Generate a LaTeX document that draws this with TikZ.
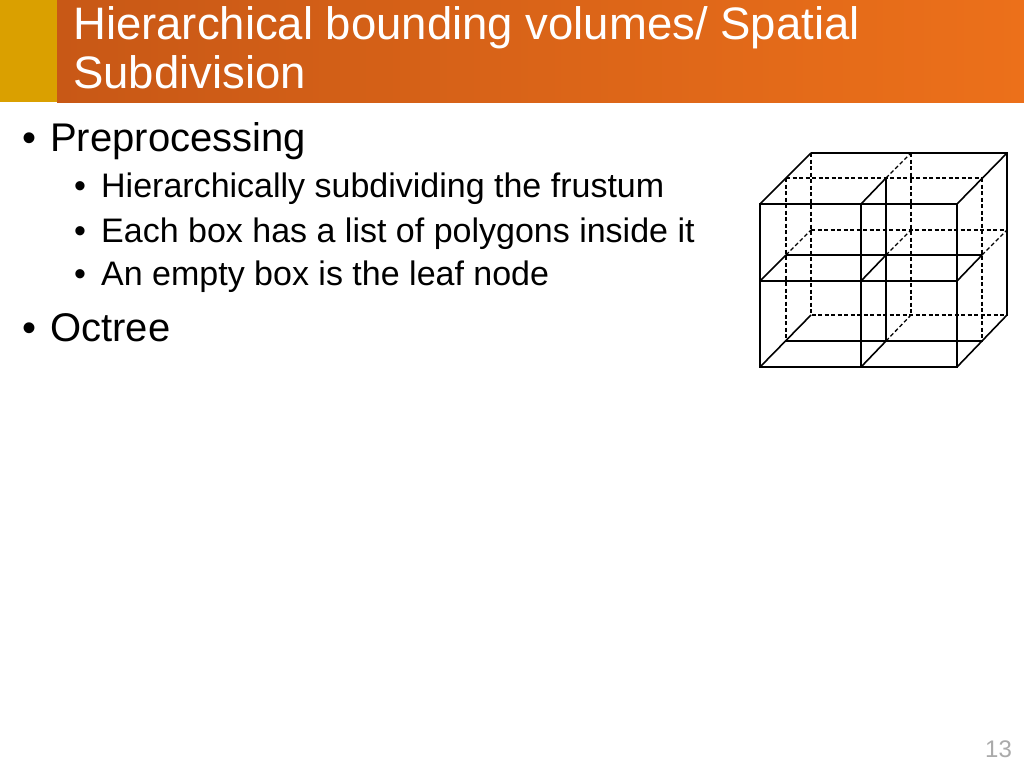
\documentclass[tikz,border=0pt]{standalone}
\usepackage{fontspec}
\setmainfont{Liberation Sans}
\definecolor{orA}{RGB}{200,88,22}
\definecolor{orB}{RGB}{236,112,26}
\definecolor{gold}{RGB}{218,160,0}
\definecolor{pgray}{RGB}{170,170,170}
\begin{document}
\begin{tikzpicture}[x=1pt,y=-1pt,
  sl/.style={line width=1.6pt},
  dl/.style={line width=1.3pt,dash pattern=on 4pt off 2.5pt},
  txt/.style={anchor=base west,inner sep=0pt,text=black},
  big/.style={font=\fontsize{40}{46}\selectfont},
  sub/.style={font=\fontsize{34}{40}\selectfont}]
\useasboundingbox (0,0) rectangle (1024,768);
\fill[white] (0,0) rectangle (1024,768);
\fill[left color=orA,right color=orB] (57,0) rectangle (1024,102);
\fill[gold] (0,0) rectangle (57,102);
\node[txt,text=white,font=\fontsize{45.5}{52}\selectfont] (t1) at (73,40) {Hierarchical bounding volumes/ Spatial};
\node[txt,text=white,font=\fontsize{45.5}{52}\selectfont] (t2) at (73,88) {Subdivision};
\node[txt,big] (p1) at (22,151) {\textbullet};
\node[txt,big] (b1) at (50,151) {Preprocessing};
\node[txt,sub] (q1) at (74,197) {\textbullet};
\node[txt,sub] (s1) at (101,197) {Hierarchically subdividing the frustum};
\node[txt,sub] (q2) at (74,242) {\textbullet};
\node[txt,sub] (s2) at (101,242) {Each box has a list of polygons inside it};
\node[txt,sub] (q3) at (74,285) {\textbullet};
\node[txt,sub] (s3) at (101,285) {An empty box is the leaf node};
\node[txt,big] (p2) at (22,341) {\textbullet};
\node[txt,big] (b2) at (50,341) {Octree};
\node[txt,text=pgray,font=\fontsize{24}{28}\selectfont] (pg) at (985,757) {13};
% back plane
\draw[dl] (811,153) -- (811,315) -- (1007,315);
\draw[dl] (911,153) -- (911,315);
\draw[dl] (811,230) -- (1007,230);
\draw[sl] (811,153) -- (1007,153) -- (1007,315);
% middle plane
\draw[dl] (786,178) -- (982,178);
\draw[dl] (786,178) -- (786,341);
\draw[dl] (982,178) -- (982,341);
\draw[sl] (886,178) -- (886,341);
\draw[sl] (786,255) -- (982,255);
\draw[sl] (786,341) -- (982,341);
% depth lines
\draw[sl] (760,204) -- (811,153);
\draw[sl] (957,204) -- (1007,153);
\draw[sl] (861,204) -- (886,178); \draw[dl] (886,178) -- (911,153);
\draw[sl] (760,281) -- (786,255); \draw[dl] (786,255) -- (811,230);
\draw[sl] (861,281) -- (886,255); \draw[dl] (886,255) -- (911,230);
\draw[sl] (957,281) -- (982,255); \draw[dl] (982,255) -- (1007,230);
\draw[sl] (760,367) -- (811,315);
\draw[sl] (861,367) -- (886,341); \draw[dl] (886,341) -- (911,315);
\draw[sl] (957,367) -- (1007,315);
% front face
\draw[sl] (760,204) rectangle (957,367);
\draw[sl] (861,204) -- (861,367);
\draw[sl] (760,281) -- (957,281);
\end{tikzpicture}
\end{document}
